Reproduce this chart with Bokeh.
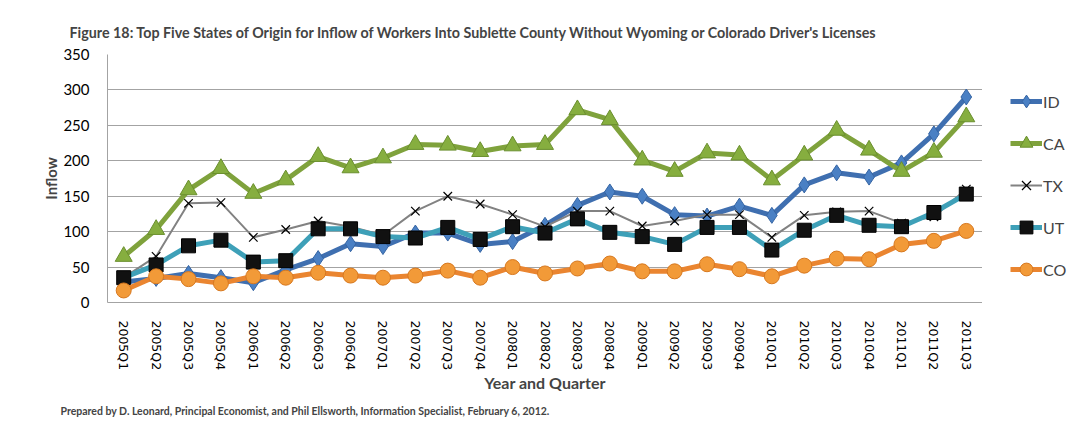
from bokeh.plotting import figure
from bokeh.layouts import row
from bokeh.models import (ColumnDataSource, FactorRange, Range1d, Title, Legend,
                          LegendItem, SingleIntervalTicker)
from bokeh.embed import file_html
from bokeh.resources import INLINE

quarters = ["2005Q1", "2005Q2", "2005Q3", "2005Q4", "2006Q1", "2006Q2", "2006Q3",
            "2006Q4", "2007Q1", "2007Q2", "2007Q3", "2007Q4", "2008Q1", "2008Q2",
            "2008Q3", "2008Q4", "2009Q1", "2009Q2", "2009Q3", "2009Q4", "2010Q1",
            "2010Q2", "2010Q3", "2010Q4", "2011Q1", "2011Q2", "2011Q3"]

id_vals = [29, 34, 41, 35, 28, 46, 62, 83, 79, 98, 98, 82, 86, 109, 137, 156, 150,
           124, 122, 136, 123, 166, 183, 177, 197, 238, 290]
ca_vals = [65, 103, 159, 189, 154, 173, 206, 190, 204, 223, 222, 213, 221, 223, 272,
           258, 201, 185, 211, 208, 173, 208, 243, 215, 185, 212, 262]
tx_vals = [35, 65, 140, 141, 92, 103, 115, 107, 95, 129, 150, 139, 124, 107, 129,
           129, 108, 115, 124, 124, 92, 123, 128, 129, 112, 121, 160]
ut_vals = [35, 53, 80, 88, 57, 59, 104, 104, 93, 91, 106, 89, 107, 98, 118, 99, 93,
           82, 106, 106, 74, 102, 123, 109, 107, 127, 153]
co_vals = [17, 37, 33, 27, 37, 35, 42, 38, 35, 38, 45, 35, 50, 41, 48, 55, 44, 44,
           54, 47, 37, 52, 62, 61, 82, 87, 101]

src = ColumnDataSource(dict(q=quarters, ID=id_vals, CA=ca_vals, TX=tx_vals,
                            UT=ut_vals, CO=co_vals))

# series styling: (column, line colour, line width, marker, size, fill, outline)
SERIES = [
    ("ID", "#3f6fb0", 5, "diamond", 16, "#4a80c4", "#3564a3"),
    ("CA", "#7fa23c", 5, "triangle", 17, "#86ae3f", "#6a8f2e"),
    ("TX", "#828282", 2, "x", 12, None, "black"),
    ("UT", "#3ea0b8", 5, "square", 14, "#111111", "#000000"),
    ("CO", "#ea8530", 5, "circle", 15, "#f29a38", "#d7781f"),
]


def draw_series(fig):
    out = []
    for col, lc, lw, mk, sz, fc, oc in SERIES:
        l = fig.line("q", col, source=src, line_color=lc, line_width=lw)
        m = fig.scatter("q", col, source=src, marker=mk, size=sz,
                        fill_color=fc, line_color=oc,
                        line_width=1.2 if mk == "x" else 1)
        out.append(LegendItem(label=col, renderers=[l, m]))
    return out


p = figure(width=982, height=435, x_range=FactorRange(*quarters, range_padding=0),
           y_range=Range1d(0, 350), output_backend="svg", toolbar_location=None,
           min_border_left=107, min_border_right=0, min_border_top=54,
           min_border_bottom=133)
p.outline_line_color = None
p.background_fill_color = "white"
p.border_fill_color = "white"

# heading, aligned from the frame's left edge
p.title.text = ("Figure 18: Top Five States of Origin for Inflow of Workers Into "
                "Sublette County Without Wyoming or Colorado Driver's Licenses")
p.title.align = "left"
p.title.offset = -38
p.title.text_font = "Lato"
p.title.text_font_style = "bold"
p.title.text_font_size = "14.3px"
p.title.standoff = 27

GRID = "#a3a3a3"
p.xgrid.grid_line_color = None
p.ygrid.grid_line_color = GRID
p.ygrid.grid_line_width = 1
p.yaxis.ticker = SingleIntervalTicker(interval=50)

for ax in (p.xaxis, p.yaxis):
    ax.axis_line_color = GRID
    ax.major_tick_line_color = None
    ax.minor_tick_line_color = None

p.yaxis.major_label_text_font = "Lato"
p.yaxis.major_label_text_font_size = "15px"
p.yaxis.major_label_text_color = "black"
p.yaxis.major_label_standoff = 12
p.yaxis.axis_label = "Inflow"
p.yaxis.axis_label_text_font = "Lato"
p.yaxis.axis_label_text_font_style = "bold"
p.yaxis.axis_label_text_font_size = "15px"
p.yaxis.axis_label_standoff = 0

p.xaxis.major_label_orientation = "vertical"
p.xaxis.major_label_text_font = "DejaVu Sans"
p.xaxis.major_label_text_font_size = "12.5px"
p.xaxis.major_label_text_color = "black"
p.xaxis.major_label_standoff = 12
p.xaxis.axis_label = "Year and Quarter"
p.xaxis.axis_label_text_font = "Lato"
p.xaxis.axis_label_text_font_style = "bold"
p.xaxis.axis_label_text_font_size = "16px"
p.xaxis.axis_label_standoff = 0

draw_series(p)

# credit line under the axis title
p.add_layout(Title(text="Prepared by D. Leonard, Principal Economist, and Phil "
                        "Ellsworth, Information Specialist, February 6, 2012.",
                   align="left", offset=-47, text_font="Lato",
                   text_font_style="bold", text_font_size="10.5px", standoff=15),
             "below")

# key panel to the right: same series, with a y window that holds no data,
# so only the legend shows (its frame lines up with the chart's frame)
key = figure(width=103, height=435, x_range=FactorRange(*quarters, range_padding=0),
             y_range=Range1d(-20, -10), output_backend="svg", toolbar_location=None,
             x_axis_type=None, y_axis_type=None, min_border=0)
key.outline_line_color = None
key.grid.grid_line_color = None
key_items = draw_series(key)
legend = Legend(items=key_items, location=(28, 16), orientation="vertical",
                glyph_width=32, glyph_height=34, spacing=8, padding=0,
                label_standoff=1, label_text_font="Lato",
                label_text_font_size="16px", background_fill_alpha=0,
                border_line_color=None, margin=0)
key.add_layout(legend, "center")

layout = row(p, key, spacing=0)
open("out.html", "w").write(file_html(layout, INLINE))
